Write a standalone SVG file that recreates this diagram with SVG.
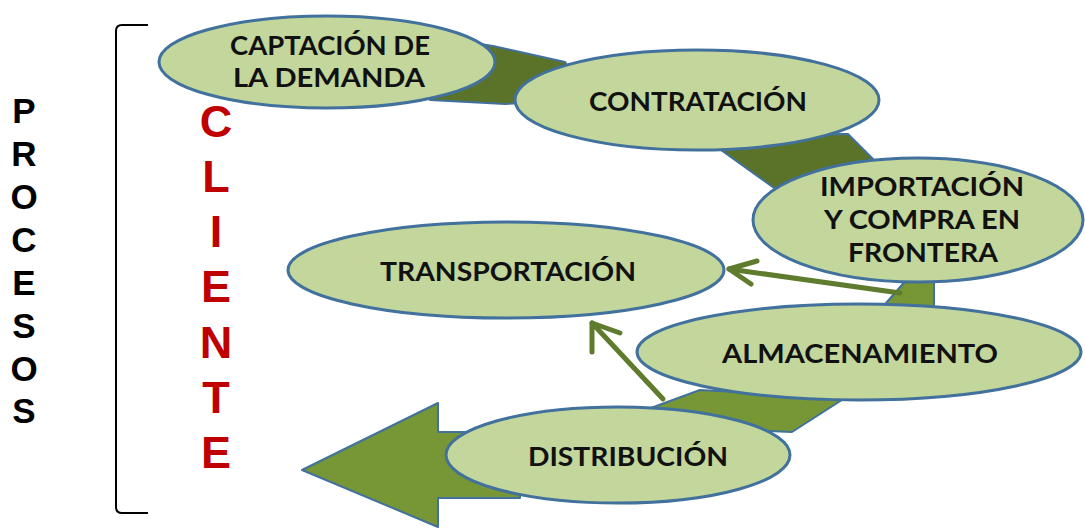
<svg xmlns="http://www.w3.org/2000/svg" width="1085" height="529" viewBox="0 0 1085 529">
<style>
.node ellipse{fill:#c3d69b;stroke:#41719c;stroke-width:3}
.lbl{font-family:Lato,"Open Sans","Liberation Sans",sans-serif;font-weight:700;font-size:26px;fill:#111;text-anchor:middle}
.band{stroke:#41719c;stroke-width:2;stroke-linejoin:round}
.dark{fill:#5b7329}
.light{fill:#779635}
.conn{stroke:#5f7b2e;stroke-width:5;fill:none;stroke-linecap:round;stroke-linejoin:round}
.side{font-family:"Liberation Sans",Arial,sans-serif;font-weight:700;text-anchor:middle}
</style>
<rect width="1085" height="529" fill="#ffffff"/>
<g id="bracket">
<path d="M148 25 L122 25 Q116 25 116 31 L116 507 Q116 513 122 513 L148 513" fill="none" stroke="#000" stroke-width="2"/>
</g>
<g id="procesos">
<text class="side" font-size="35" fill="#000">
<tspan x="24" y="123">P</tspan><tspan x="24" y="166">R</tspan><tspan x="24" y="209">O</tspan><tspan x="24" y="252">C</tspan><tspan x="24" y="295">E</tspan><tspan x="24" y="338">S</tspan><tspan x="24" y="381">O</tspan><tspan x="24" y="423">S</tspan>
</text>
</g>
<g id="cliente">
<text class="side" font-size="45" fill="#c00000">
<tspan x="216" y="137">C</tspan><tspan x="216" y="192">L</tspan><tspan x="216" y="247">I</tspan><tspan x="216" y="302">E</tspan><tspan x="216" y="358">N</tspan><tspan x="216" y="413">T</tspan><tspan x="216" y="468">E</tspan>
</text>
</g>
<g id="ribbon">
<polygon class="band dark" points="430,36 493,46 565,62 590,100 505,104 430,100"/>
<polygon class="band dark" points="700,135 848,134 892,178 795,203"/>
<polygon class="band light" points="880,310 915,270 934,270 934,312"/>
<polygon class="band light" points="640,412 700,390 845,398 792,432 700,428"/>
<polygon class="band light" points="302,470 438,403 438,432 520,432 520,498 438,498 438,527"/>
</g>
<g id="connectors">
<path class="conn" d="M900 293 L729 269"/>
<path class="conn" d="M757 261 L729 269 L751 284"/>
<path class="conn" d="M663 399 L592 323"/>
<path class="conn" d="M592 352 L592 323 L620 333"/>
</g>
<g id="n1" class="node"><ellipse cx="327" cy="62" rx="168" ry="46"/>
<text class="lbl" x="330" y="55" textLength="200" lengthAdjust="spacingAndGlyphs">CAPTACIÓN DE</text>
<text class="lbl" x="329" y="87" textLength="192" lengthAdjust="spacingAndGlyphs">LA DEMANDA</text></g>
<g id="n2" class="node"><ellipse cx="697" cy="100" rx="182" ry="50"/>
<text class="lbl" x="698" y="111" textLength="218" lengthAdjust="spacingAndGlyphs">CONTRATACIÓN</text></g>
<g id="n3" class="node"><ellipse cx="918" cy="220" rx="165" ry="62"/>
<text class="lbl" x="922" y="196" textLength="204" lengthAdjust="spacingAndGlyphs">IMPORTACIÓN</text>
<text class="lbl" x="922" y="229" textLength="196" lengthAdjust="spacingAndGlyphs">Y COMPRA EN</text>
<text class="lbl" x="923" y="262" textLength="150" lengthAdjust="spacingAndGlyphs">FRONTERA</text></g>
<g id="n4" class="node"><ellipse cx="506" cy="270" rx="218" ry="48"/>
<text class="lbl" x="508" y="281" textLength="256" lengthAdjust="spacingAndGlyphs">TRANSPORTACIÓN</text></g>
<g id="n5" class="node"><ellipse cx="859" cy="352" rx="222" ry="48"/>
<text class="lbl" x="860" y="363" textLength="276" lengthAdjust="spacingAndGlyphs">ALMACENAMIENTO</text></g>
<g id="n6" class="node"><ellipse cx="618" cy="455" rx="172" ry="48"/>
<text class="lbl" x="628" y="466" textLength="200" lengthAdjust="spacingAndGlyphs">DISTRIBUCIÓN</text></g>
</svg>
